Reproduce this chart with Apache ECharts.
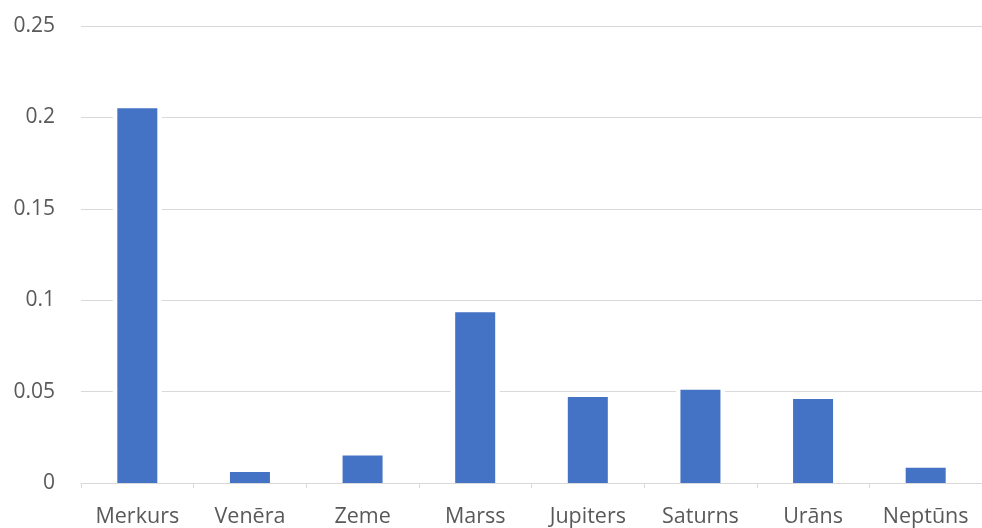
<!DOCTYPE html>
<html>
<head>
<meta charset="utf-8">
<script src="https://cdn.jsdelivr.net/npm/echarts@6/dist/echarts.min.js"></script>
<style>
  html, body { margin: 0; padding: 0; background: #ffffff; }
  #chart { width: 982px; height: 528px; }
</style>
</head>
<body>
<div id="chart"></div>
<script>
// Orbital eccentricity of the planets
const planets = ['Merkurs', 'Venēra', 'Zeme', 'Marss', 'Jupiters', 'Saturns', 'Urāns', 'Neptūns'];
const eccentricity = [0.205, 0.006, 0.015, 0.0934, 0.047, 0.051, 0.046, 0.0084];
const yTicks = [0, 0.05, 0.1, 0.15, 0.2, 0.25];

const labelColor = '#595959';
const lineColor = '#d9d9d9';
const barColor = '#4472c4';
const font = '"Open Sans", "Noto Sans", sans-serif';

const chart = echarts.init(document.getElementById('chart'), null, { renderer: 'canvas' });

chart.setOption({
  animation: false,
  backgroundColor: '#ffffff',
  grid: { left: 81, right: -11, top: 26, bottom: 45 },
  xAxis: [
    {
      type: 'category',
      data: planets,
      z: 5,
      axisLine: { lineStyle: { color: lineColor, width: 1 } },
      axisTick: { show: true, length: 5, lineStyle: { color: lineColor } },
      axisLabel: {
        color: labelColor, fontFamily: font, fontSize: 21.5, margin: 23,
        interval: 0, hideOverlap: false
      }
    },
    {
      // hidden twin axis carrying the white outline behind each bar
      type: 'category',
      data: planets,
      show: false,
      position: 'bottom'
    }
  ],
  yAxis: {
    type: 'value',
    min: yTicks[0],
    max: yTicks[yTicks.length - 1],
    interval: 0.05,
    axisLine: { show: false },
    axisTick: { show: false },
    splitLine: { lineStyle: { color: lineColor, width: 1 } },
    axisLabel: {
      color: labelColor,
      fontFamily: font,
      fontSize: 21,
      margin: 26,
      formatter: v => String(+v.toFixed(2))
    }
  },
  series: [
    {
      type: 'bar',
      xAxisIndex: 1,
      data: eccentricity,
      barWidth: 49,
      z: 1,
      silent: true,
      itemStyle: { color: '#ffffff' }
    },
    {
      type: 'bar',
      xAxisIndex: 0,
      data: eccentricity,
      barWidth: 40,
      z: 2,
      itemStyle: { color: barColor }
    }
  ]
});
</script>
</body>
</html>
